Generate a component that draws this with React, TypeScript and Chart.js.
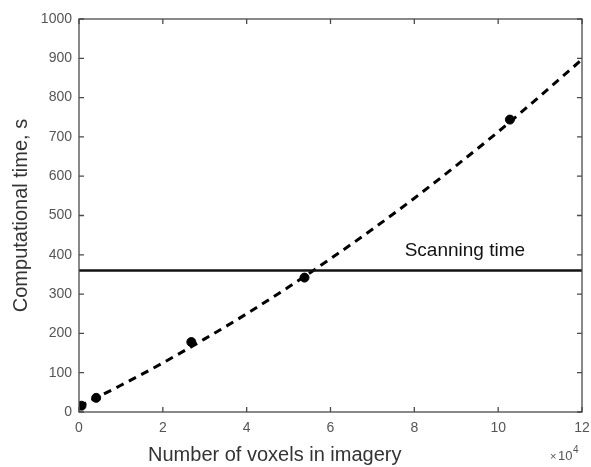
import React, { useEffect, useRef } from "react";
import { Chart, registerables } from "chart.js";

Chart.register(...registerables);

// x values in units of 10^4 voxels
const measuredVoxels = [0.06, 0.41, 2.68, 5.38, 10.28];
const measuredTimes = [16, 36, 178, 342, 744];

const fitVoxels = [0, 1, 2, 3, 4, 5, 6, 7, 8, 9, 10, 11, 12];
const fitTimes = [14, 68, 125, 186, 250, 318, 390, 465, 544, 627, 713, 804, 897];

const scanVoxels = [0, 12];
const scanTimes = [360, 360];

const xTicks = [0, 2, 4, 6, 8, 10, 12];
const yTicks = [0, 100, 200, 300, 400, 500, 600, 700, 800, 900, 1000];

const xTitle = "Number of voxels in imagery";
const yTitle = "Computational time, s";
const scanLabel = "Scanning time";

const FONT = "'Liberation Sans', Arial, sans-serif";

const framePlugin = {
  id: "frame",
  afterDatasetsDraw(chart: any) {
    const { ctx, chartArea: a, scales } = chart;
    const xs = scales.x;
    const ys = scales.y;
    ctx.save();
    ctx.strokeStyle = "#4a4a4a";
    ctx.lineWidth = 1.3;
    ctx.strokeRect(a.left, a.top, a.right - a.left, a.bottom - a.top);
    const L = 5;
    ctx.beginPath();
    xTicks.forEach((v) => {
      const px = xs.getPixelForValue(v);
      ctx.moveTo(px, a.bottom);
      ctx.lineTo(px, a.bottom - L);
      ctx.moveTo(px, a.top);
      ctx.lineTo(px, a.top + L);
    });
    yTicks.forEach((v) => {
      const py = ys.getPixelForValue(v);
      ctx.moveTo(a.left, py);
      ctx.lineTo(a.left + L, py);
      ctx.moveTo(a.right, py);
      ctx.lineTo(a.right - L, py);
    });
    ctx.stroke();

    // Scanning time label
    ctx.fillStyle = "#111";
    ctx.font = `19px ${FONT}`;
    ctx.textAlign = "left";
    ctx.textBaseline = "middle";
    ctx.fillText(scanLabel, xs.getPixelForValue(7.77), ys.getPixelForValue(360) - 20);

    // x title
    ctx.fillStyle = "#333";
    ctx.font = `20px ${FONT}`;
    ctx.textAlign = "center";
    ctx.textBaseline = "middle";
    ctx.fillText(xTitle, xs.getPixelForValue(4.67), a.bottom + 43);

    // exponent
    ctx.fillStyle = "#555";
    ctx.textAlign = "left";
    ctx.font = `11px ${FONT}`;
    ctx.fillText("\u00d7", a.right - 32, a.bottom + 45);
    ctx.font = `13px ${FONT}`;
    ctx.fillText("10", a.right - 24, a.bottom + 44);
    ctx.font = `10px ${FONT}`;
    ctx.fillText("4", a.right - 9, a.bottom + 38);
    ctx.restore();
  },
};

export default function App() {
  const ref = useRef<HTMLCanvasElement | null>(null);

  useEffect(() => {
    document.body.style.margin = "0";
    const canvas = ref.current;
    if (!canvas) return;
    const chart = new Chart(canvas, {
      type: "scatter",
      data: {
        datasets: [
          {
            type: "line",
            data: scanVoxels.map((x, i) => ({ x, y: scanTimes[i] })),
            borderColor: "#111",
            borderWidth: 2.5,
            pointRadius: 0,
            fill: false,
          },
          {
            type: "line",
            data: fitVoxels.map((x, i) => ({ x, y: fitTimes[i] })),
            borderColor: "#000",
            borderWidth: 3,
            borderDash: [8, 6],
            pointRadius: 0,
            cubicInterpolationMode: "monotone",
            fill: false,
          },
          {
            type: "scatter",
            data: measuredVoxels.map((x, i) => ({ x, y: measuredTimes[i] })),
            backgroundColor: "#000",
            borderColor: "#000",
            pointRadius: 4.5,
          },
        ],
      },
      options: {
        responsive: false,
        animation: false,
        layout: { padding: { top: 19, right: 9, left: 0, bottom: 0 } },
        plugins: { legend: { display: false }, tooltip: { enabled: false } },
        scales: {
          x: {
            type: "linear",
            min: 0,
            max: 12,
            afterBuildTicks: (s: any) => {
              s.ticks = xTicks.map((v) => ({ value: v }));
            },
            afterFit: (s: any) => {
              s.height = 55;
              s.paddingLeft = 0;
              s.paddingRight = 0;
            },
            grid: { display: false, drawTicks: false },
            border: { display: false },
            ticks: {
              color: "#555",
              font: { family: FONT, size: 14 },
              padding: 8,
              maxRotation: 0,
              callback: (v: any) => String(v),
            },
          },
          y: {
            type: "linear",
            min: 0,
            max: 1000,
            afterBuildTicks: (s: any) => {
              s.ticks = yTicks.map((v) => ({ value: v }));
            },
            afterFit: (s: any) => {
              s.width = 79;
              s.paddingTop = 0;
              s.paddingBottom = 0;
            },
            grid: { display: false, drawTicks: false },
            border: { display: false },
            ticks: {
              color: "#555",
              font: { family: FONT, size: 14 },
              padding: 7,
              callback: (v: any) => String(v),
            },
            title: {
              display: true,
              text: yTitle,
              color: "#333",
              font: { family: FONT, size: 20 },
              padding: { top: 9, bottom: 0 },
            },
          },
        },
      },
      plugins: [framePlugin],
    } as any);
    return () => chart.destroy();
  }, []);

  return (
    <div style={{ width: 591, height: 467 }}>
      <canvas ref={ref} width={591} height={467} />
    </div>
  );
}
